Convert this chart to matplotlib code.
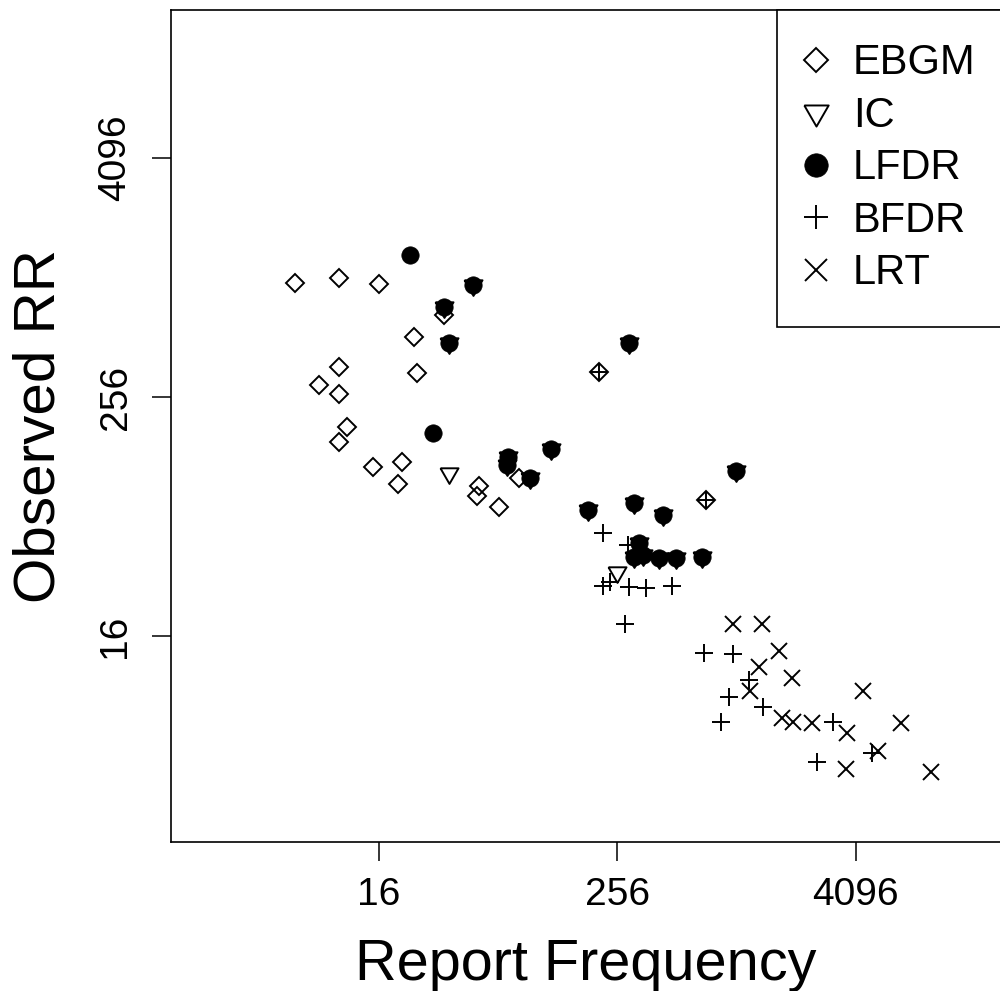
import matplotlib.pyplot as plt
import matplotlib.ticker as mticker

plt.rcParams['font.family'] = ['Liberation Sans', 'DejaVu Sans']

# === Data (report frequency, observed RR) ===
ebgm_freq = [6, 10, 16, 24, 34, 25, 10, 8, 10, 11, 10, 15, 21, 20, 51, 50, 65, 82, 207, 718]
ebgm_rr = [961, 1018, 949, 513, 663, 338, 363, 294, 265, 181, 152, 114, 120, 93, 91, 81, 71, 100, 342, 77]

ic_freq = [48, 34, 36, 293, 118, 72, 71, 93, 1017, 182, 311, 435, 329, 311, 345, 415, 506, 685, 36, 255]
ic_rr = [938, 727, 479, 479, 140, 128, 116, 100, 108, 69, 75, 65, 47, 40, 41, 39.5, 39.5, 40, 106, 33.6]

lfdr_freq = [23, 48, 34, 36, 293, 30, 118, 72, 71, 93, 1017, 182, 311, 435, 329, 311, 345, 415, 506, 685]
lfdr_rr = [1330, 938, 727, 479, 479, 169, 140, 128, 116, 100, 108, 69, 75, 65, 47, 40, 41, 39.5, 39.5, 40]

bfdr_freq = [207, 718, 216, 290, 216, 235, 293, 357, 483, 280,
             701, 982, 1183, 937, 1392, 854, 3141, 4946, 2608]
bfdr_rr = [342, 77, 53, 46, 28.6, 29.9, 28.2, 27.9, 28.6, 18.4,
           13.1, 13.0, 9.6, 7.9, 7.0, 5.9, 5.9, 4.1, 3.7]

lrt_freq = [982, 1376, 1676, 1329, 1951, 1197, 4454, 1737, 1973, 2461, 3697, 6927, 5300, 3656, 9826]
lrt_rr = [18.4, 18.4, 13.4, 11.2, 9.8, 8.4, 8.4, 6.2, 5.9, 5.8, 5.2, 5.8, 4.2, 3.4, 3.3]

ticks = [16, 256, 4096]

# R style down triangle (pch 6): centred on its centroid, not its bounding box
tri_down = [(-1.0, 0.577), (1.0, 0.577), (0.0, -1.155), (-1.0, 0.577)]

fig = plt.figure(figsize=(10, 9.91), dpi=100)
ax = fig.add_axes([0.171, 0.1504, 0.830, 0.8396])

mew = 1.4
ax.plot(ebgm_freq, ebgm_rr, 'D', ms=9, mfc='none', mec='black', mew=mew, ls='none', label='EBGM')
ax.plot(ic_freq, ic_rr, marker=tri_down, ms=15, mfc='none', mec='black', mew=mew, ls='none', label='IC')
ax.plot(lfdr_freq, lfdr_rr, 'o', ms=12.5, mfc='black', mec='black', mew=0.5, ls='none', label='LFDR')
ax.plot(bfdr_freq, bfdr_rr, '+', ms=13, mec='black', mew=mew, ls='none', label='BFDR')
ax.plot(lrt_freq, lrt_rr, 'x', ms=11.5, mec='black', mew=mew, ls='none', label='LRT')

ax.set_xscale('log', base=2)
ax.set_yscale('log', base=2)
ax.set_xlim(2 ** 0.51, 2 ** 14.44)
ax.set_ylim(2 ** 0.55, 2 ** 14.48)
ax.set_xticks(ticks)
ax.set_yticks(ticks)
ax.xaxis.set_major_formatter(mticker.FixedFormatter([str(t) for t in ticks]))
ax.yaxis.set_major_formatter(mticker.FixedFormatter([str(t) for t in ticks]))
ax.xaxis.set_minor_locator(mticker.NullLocator())
ax.yaxis.set_minor_locator(mticker.NullLocator())
ax.tick_params(length=14, width=1.1, labelsize=28)
ax.tick_params(axis='x', pad=11)
ax.tick_params(axis='y', pad=13)
for lab in ax.get_yticklabels():
    lab.set_rotation(90)
    lab.set_va('center')
for sp in ax.spines.values():
    sp.set_linewidth(1.2)

ax.set_xlabel('Report Frequency', fontsize=41.5, labelpad=18)
ax.set_ylabel('Observed RR', fontsize=42, labelpad=22)

leg = ax.legend(loc='upper left', bbox_to_anchor=(0.730, 1.0), fontsize=30,
                frameon=True, fancybox=False, edgecolor='black', framealpha=1,
                borderpad=0.8, labelspacing=0.3, handlelength=0.27,
                handletextpad=0.75, markerscale=1.35, borderaxespad=0)
leg.get_frame().set_linewidth(1.2)

fig.savefig('out.png', dpi=100)
